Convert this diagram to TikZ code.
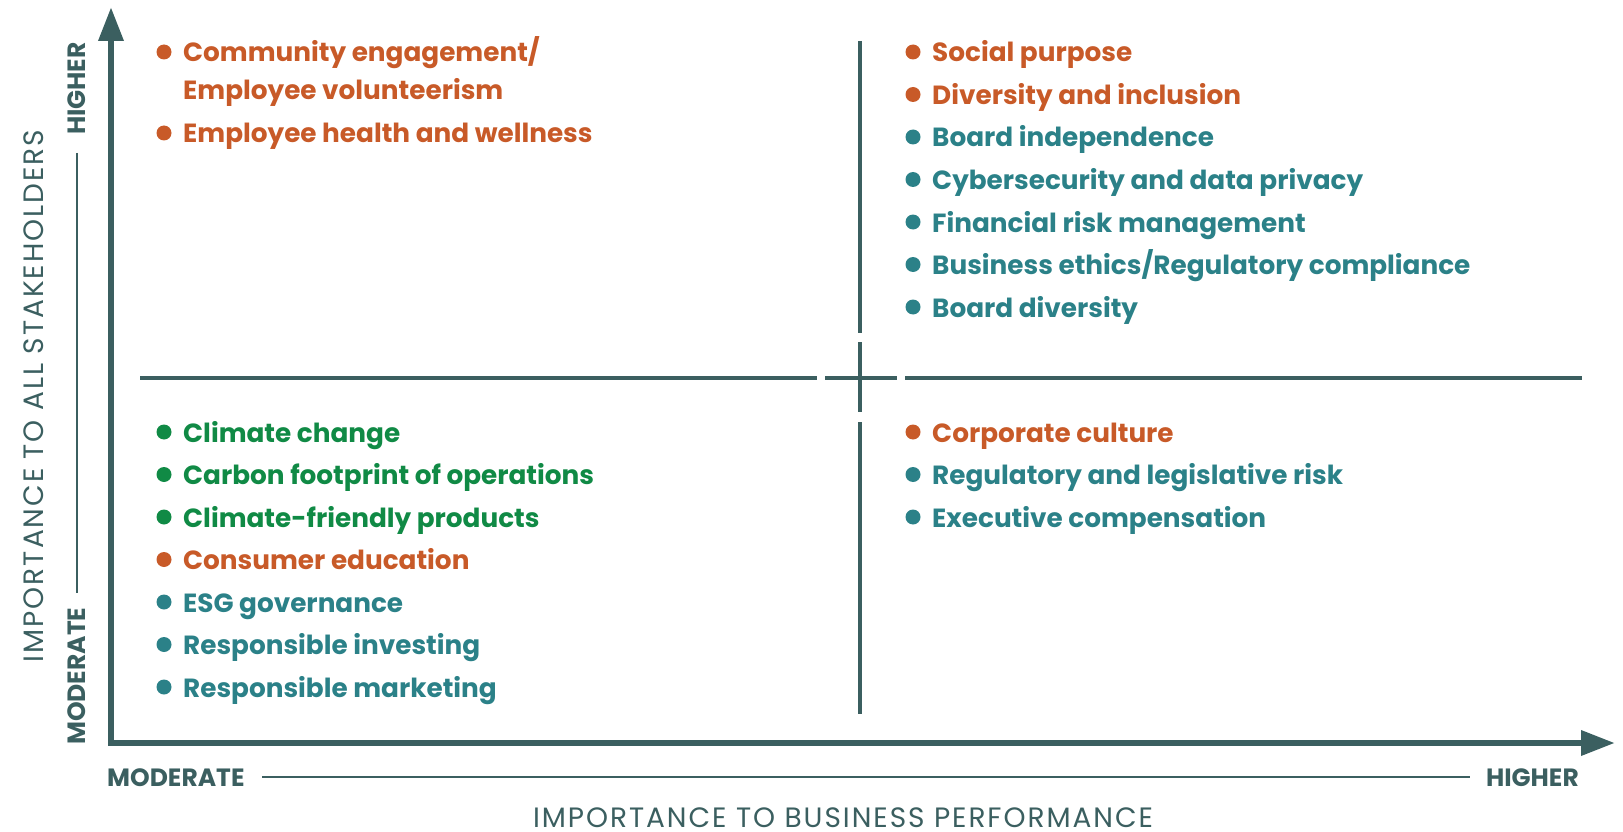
\documentclass[tikz,border=0pt]{standalone}
\usepackage{fontspec}
\setmainfont{Poppins}
\usetikzlibrary{arrows.meta}

\definecolor{esgorange}{HTML}{C85A28}
\definecolor{esgteal}{HTML}{2B8188}
\definecolor{esggreen}{HTML}{108A45}
\definecolor{esgaxis}{HTML}{3B5F60}

\tikzset{
	item/.style={anchor=base west, inner sep=0pt, font=\bfseries\fontsize{26.3}{26}\selectfont},
	dot/.style={circle, fill, inner sep=0pt, minimum size=15pt},
	axis/.style={esgaxis, line width=6.5pt, line join=miter},
	quad/.style={esgaxis, line width=3.5pt},
	guide/.style={esgaxis, line width=1.5pt},
	level/.style={text=esgaxis, inner sep=0pt, font=\bfseries\fontsize{25}{25}\selectfont},
	title/.style={text=esgaxis, inner sep=0pt, anchor=base, font=\fontsize{28}{28}\selectfont\addfontfeatures{LetterSpace=7}}
}

\begin{document}
\begin{tikzpicture}[x=1pt, y=-1pt]
	\useasboundingbox (0,0) rectangle (1623,832);

	% axes
	\coordinate (O) at (111,743);
	\coordinate (ytip) at (111,7);
	\coordinate (xtip) at (1615,743);
	\draw[axis, {Triangle[length=34pt,width=24pt]}-{Triangle[length=34pt,width=24pt]}] (ytip) -- (O) -- (xtip);

	% quadrant cross
	\draw[quad] (860,41) -- (860,333);
	\draw[quad] (860,342) -- (860,412);
	\draw[quad] (860,422) -- (860,714);
	\draw[quad] (140,378) -- (817,378);
	\draw[quad] (825,378) -- (897,378);
	\draw[quad] (905,378) -- (1582,378);

	% axis labels
	\node[level, anchor=base west] (xlow) at (107,786) {MODERATE};
	\node[level, anchor=base east] (xhigh) at (1579,786) {HIGHER};
	\draw[guide] (262,777) -- (1470,777);
	\node[level, anchor=base west, rotate=90] (ylow) at (85,745) {MODERATE};
	\node[level, anchor=base east, rotate=90] (yhigh) at (85,42) {HIGHER};
	\draw[guide] (77,153) -- (77,593);
	\node[title] (xtitle) at (843,827) {IMPORTANCE TO BUSINESS PERFORMANCE};
	\node[title, rotate=90] (ytitle) at (43,396) {IMPORTANCE TO ALL STAKEHOLDERS};

	% upper left
	\begin{scope}[every node/.style={item}]
		\node[text=esgorange] (tl1) at (183,62) {Community engagement/};
		\node[text=esgorange] (tl1b) at (183,100) {Employee volunteerism};
		\node[text=esgorange] (tl2) at (183,143) {Employee health and wellness};
	\end{scope}

	% upper right
	\begin{scope}[every node/.style={item}]
		\node[text=esgorange] (tr1) at (932,62) {Social purpose};
		\node[text=esgorange] (tr2) at (932,104.5) {Diversity and inclusion};
		\node[text=esgteal] (tr3) at (932,147) {Board independence};
		\node[text=esgteal] (tr4) at (932,189.5) {Cybersecurity and data privacy};
		\node[text=esgteal] (tr5) at (932,232) {Financial risk management};
		\node[text=esgteal] (tr6) at (932,274.5) {Business ethics/Regulatory compliance};
		\node[text=esgteal] (tr7) at (932,317) {Board diversity};
	\end{scope}

	% lower left
	\begin{scope}[every node/.style={item}]
		\node[text=esggreen] (bl1) at (183,442) {Climate change};
		\node[text=esggreen] (bl2) at (183,484.5) {Carbon footprint of operations};
		\node[text=esggreen] (bl3) at (183,527) {Climate-friendly products};
		\node[text=esgorange] (bl4) at (183,569.5) {Consumer education};
		\node[text=esgteal] (bl5) at (183,612) {ESG governance};
		\node[text=esgteal] (bl6) at (183,654.5) {Responsible investing};
		\node[text=esgteal] (bl7) at (183,697) {Responsible marketing};
	\end{scope}

	% lower right
	\begin{scope}[every node/.style={item}]
		\node[text=esgorange] (br1) at (932,442) {Corporate culture};
		\node[text=esgteal] (br2) at (932,484.5) {Regulatory and legislative risk};
		\node[text=esgteal] (br3) at (932,527) {Executive compensation};
	\end{scope}

	% bullets
	\foreach \n/\c in {tl1/esgorange, tl2/esgorange,
			tr1/esgorange, tr2/esgorange, tr3/esgteal, tr4/esgteal, tr5/esgteal, tr6/esgteal, tr7/esgteal,
			bl1/esggreen, bl2/esggreen, bl3/esggreen, bl4/esgorange, bl5/esgteal, bl6/esgteal, bl7/esgteal,
			br1/esgorange, br2/esgteal, br3/esgteal}
		\node[dot, \c] (\n-dot) at ([shift={(-19,-10)}]\n.base west) {};
\end{tikzpicture}
\end{document}
